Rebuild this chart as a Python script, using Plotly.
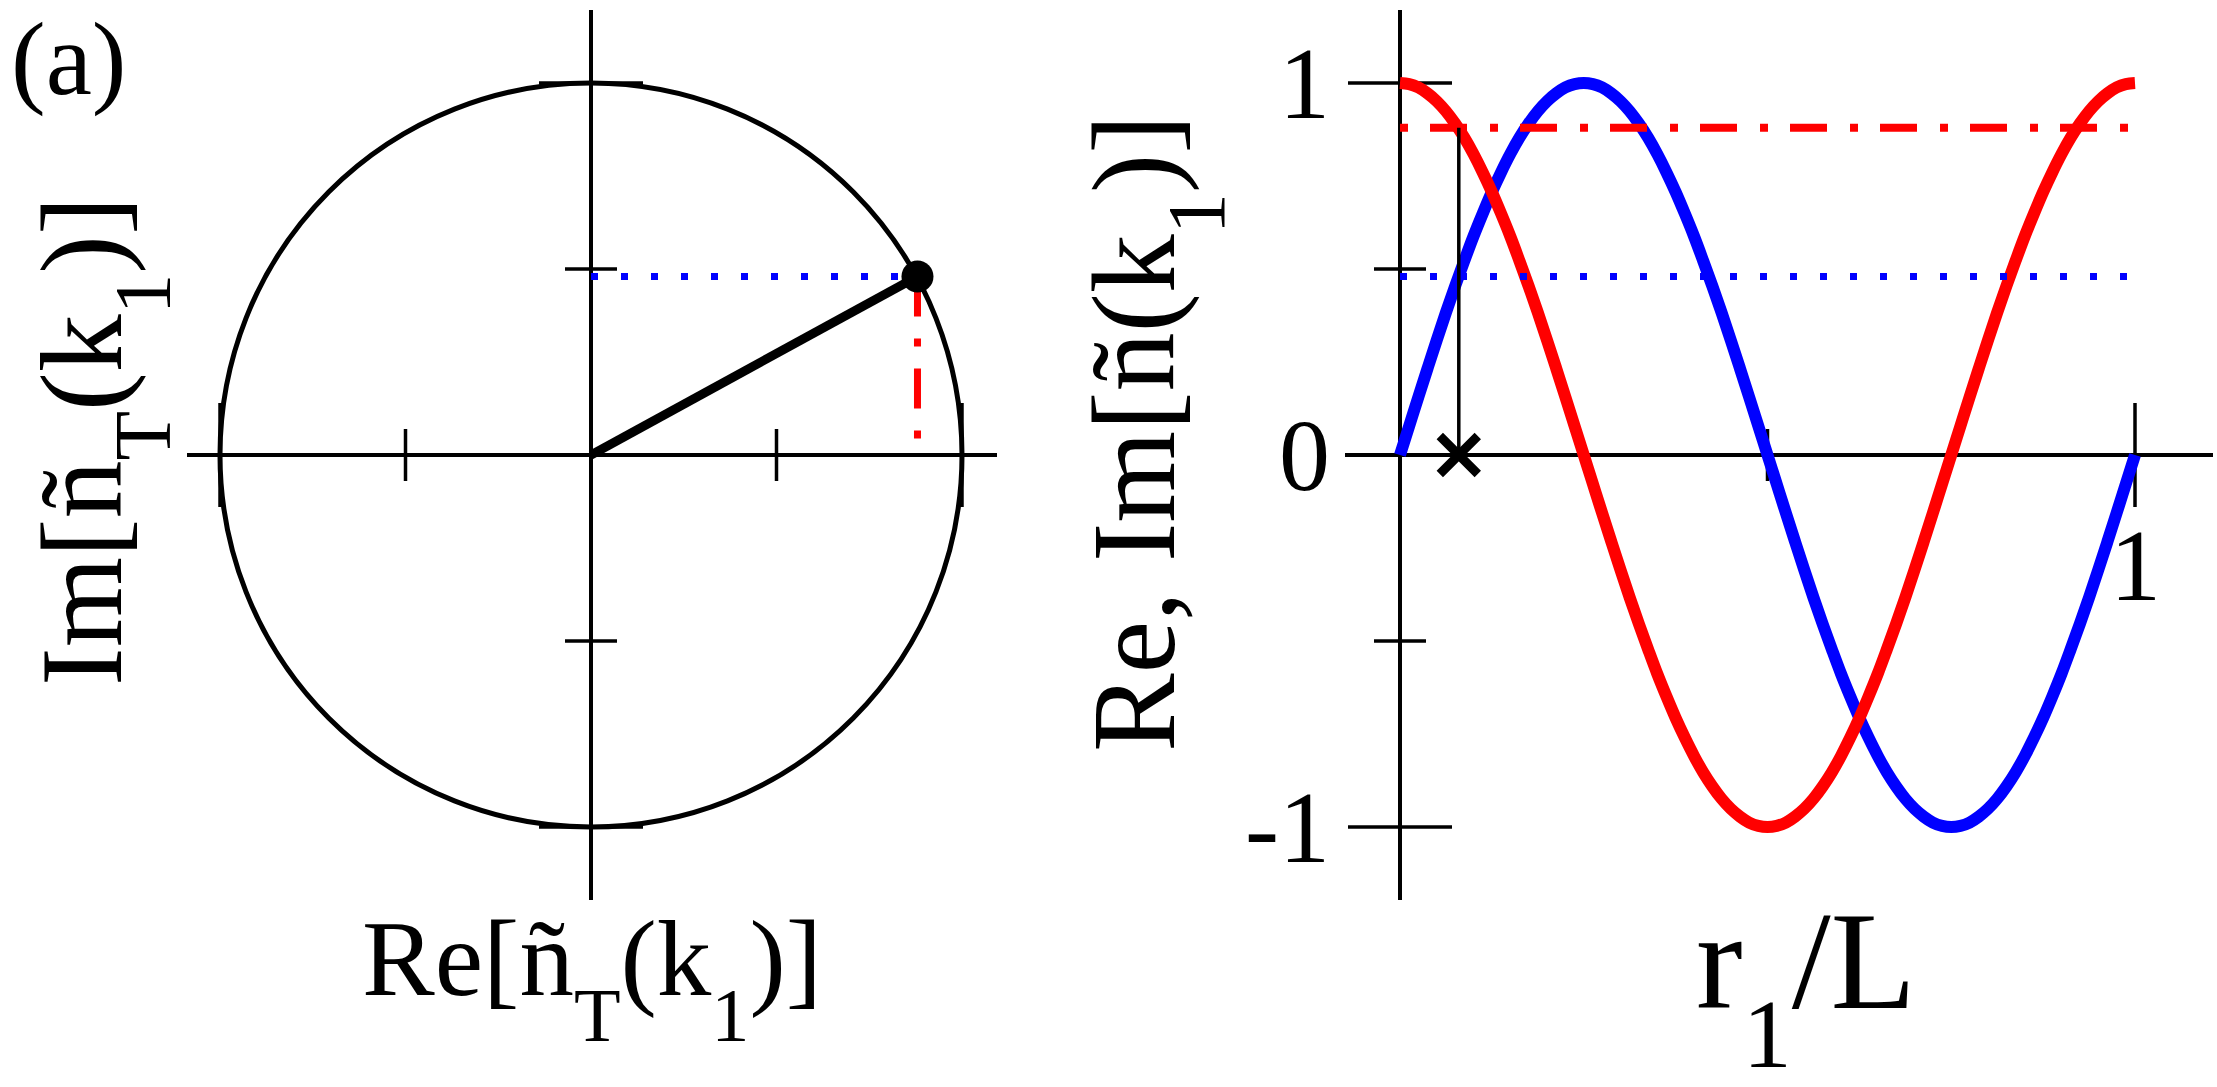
import plotly.graph_objects as go

# ---------------- data ----------------
r1_over_L = [0.0, 0.0125, 0.025, 0.0375, 0.05, 0.0625, 0.075, 0.0875, 0.1, 0.1125,
             0.125, 0.1375, 0.15, 0.1625, 0.175, 0.1875, 0.2, 0.2125, 0.225, 0.2375,
             0.25, 0.2625, 0.275, 0.2875, 0.3, 0.3125, 0.325, 0.3375, 0.35, 0.3625,
             0.375, 0.3875, 0.4, 0.4125, 0.425, 0.4375, 0.45, 0.4625, 0.475, 0.4875,
             0.5, 0.5125, 0.525, 0.5375, 0.55, 0.5625, 0.575, 0.5875, 0.6, 0.6125,
             0.625, 0.6375, 0.65, 0.6625, 0.675, 0.6875, 0.7, 0.7125, 0.725, 0.7375,
             0.75, 0.7625, 0.775, 0.7875, 0.8, 0.8125, 0.825, 0.8375, 0.85, 0.8625,
             0.875, 0.8875, 0.9, 0.9125, 0.925, 0.9375, 0.95, 0.9625, 0.975, 0.9875, 1.0]
im_values = [0.000, 0.078, 0.156, 0.233, 0.309, 0.383, 0.454, 0.522, 0.588, 0.649,
             0.707, 0.760, 0.809, 0.853, 0.891, 0.924, 0.951, 0.972, 0.988, 0.997,
             1.000, 0.997, 0.988, 0.972, 0.951, 0.924, 0.891, 0.853, 0.809, 0.760,
             0.707, 0.649, 0.588, 0.522, 0.454, 0.383, 0.309, 0.233, 0.156, 0.078,
             0.000, -0.078, -0.156, -0.233, -0.309, -0.383, -0.454, -0.522, -0.588, -0.649,
             -0.707, -0.760, -0.809, -0.853, -0.891, -0.924, -0.951, -0.972, -0.988, -0.997,
             -1.000, -0.997, -0.988, -0.972, -0.951, -0.924, -0.891, -0.853, -0.809, -0.760,
             -0.707, -0.649, -0.588, -0.522, -0.454, -0.383, -0.309, -0.233, -0.156, -0.078, 0.000]
re_values = [1.000, 0.997, 0.988, 0.972, 0.951, 0.924, 0.891, 0.853, 0.809, 0.760,
             0.707, 0.649, 0.588, 0.522, 0.454, 0.383, 0.309, 0.233, 0.156, 0.078,
             0.000, -0.078, -0.156, -0.233, -0.309, -0.383, -0.454, -0.522, -0.588, -0.649,
             -0.707, -0.760, -0.809, -0.853, -0.891, -0.924, -0.951, -0.972, -0.988, -0.997,
             -1.000, -0.997, -0.988, -0.972, -0.951, -0.924, -0.891, -0.853, -0.809, -0.760,
             -0.707, -0.649, -0.588, -0.522, -0.454, -0.383, -0.309, -0.233, -0.156, -0.078,
             0.000, 0.078, 0.156, 0.233, 0.309, 0.383, 0.454, 0.522, 0.588, 0.649,
             0.707, 0.760, 0.809, 0.853, 0.891, 0.924, 0.951, 0.972, 0.988, 0.997, 1.000]

circle_radius = 1.0
point_re = 0.88
point_im = 0.48
r1_marker = 0.08

circle_major_ticks = [-1.0, 1.0]
circle_minor_ticks = [-0.5, 0.5]
curve_y_major_ticks = [-1.0, 1.0]
curve_y_minor_ticks = [-0.5, 0.5]
curve_x_major_ticks = [1.0]
curve_x_minor_ticks = [0.5]
curve_y_tickvals = [1, 0, -1]
curve_y_ticktext = ["1", "0", "-1"]
curve_x_tickvals = [1]
curve_x_ticktext = ["1"]

# ---------------- text ----------------
def sub(t):
    # subscript, set lower than plotly's default <sub>
    return "<span style='font-size:70%;baseline-shift:-0.6em'>" + t + "</span>"

panel_label = "(a)"
left_xtitle = "Re[ñ" + sub("T") + "(k" + sub("1") + ")]"
left_ytitle = "Im[ñ" + sub("T") + "(k" + sub("1") + ")]"
right_ytitle = "Re, Im[ñ(k" + sub("1") + ")]"
right_xtitle = "r" + sub("1") + "/L"

# ---------------- layout geometry (pixels) ----------------
W, H = 2217, 1087
FONT = "Liberation Serif, Times New Roman, serif"

def px(x):
    return x / W

def py(y):
    return 1 - y / H

L_x0, L_x1 = 187, 997
R_x0, R_x1 = 1345, 2213
top, bottom = 10, 900
oy, uy = 455, 372
Lox, Lux = 591, 371
Rox, Rux = 1400, 735

left_xrange = [(L_x0 - Lox) / Lux, (L_x1 - Lox) / Lux]
right_xrange = [(R_x0 - Rox) / Rux, (R_x1 - Rox) / Rux]
yrange = [-(bottom - oy) / uy, (oy - top) / uy]

MAJOR = 104 / 1.4
MINOR = 52 / 1.4
TICKW = 3.5

fig = go.Figure()

def tick_trace(xs, ys, symbol, size, xa, ya):
    return go.Scatter(x=xs, y=ys, mode="markers",
                      marker=dict(symbol=symbol, size=size, line=dict(color="black", width=TICKW)),
                      xaxis=xa, yaxis=ya, hoverinfo="skip")

# ---------------- left panel ----------------
fig.add_trace(tick_trace(circle_major_ticks, [0] * len(circle_major_ticks), "line-ns", MAJOR, "x", "y"))
fig.add_trace(tick_trace(circle_minor_ticks, [0] * len(circle_minor_ticks), "line-ns", MINOR, "x", "y"))
fig.add_trace(tick_trace([0] * len(circle_major_ticks), circle_major_ticks, "line-ew", MAJOR, "x", "y"))
fig.add_trace(tick_trace([0] * len(circle_minor_ticks), circle_minor_ticks, "line-ew", MINOR, "x", "y"))
fig.add_trace(go.Scatter(x=[0, point_re], y=[point_im, point_im], mode="lines",
                         line=dict(color="blue", width=7, dash="7px,23px"),
                         xaxis="x", yaxis="y", hoverinfo="skip"))
fig.add_trace(go.Scatter(x=[point_re, point_re], y=[point_im, 0], mode="lines",
                         line=dict(color="red", width=7, dash="40px,22px,8px,22px"),
                         xaxis="x", yaxis="y", hoverinfo="skip"))
fig.add_trace(go.Scatter(x=[0, point_re], y=[0, point_im], mode="lines",
                         line=dict(color="black", width=9),
                         xaxis="x", yaxis="y", hoverinfo="skip"))
fig.add_trace(go.Scatter(x=[point_re], y=[point_im], mode="markers",
                         marker=dict(color="black", size=32),
                         xaxis="x", yaxis="y", hoverinfo="skip"))

# ---------------- right panel ----------------
fig.add_trace(tick_trace([0] * len(curve_y_major_ticks), curve_y_major_ticks, "line-ew", MAJOR, "x2", "y2"))
fig.add_trace(tick_trace([0] * len(curve_y_minor_ticks), curve_y_minor_ticks, "line-ew", MINOR, "x2", "y2"))
fig.add_trace(tick_trace(curve_x_major_ticks, [0] * len(curve_x_major_ticks), "line-ns", MAJOR, "x2", "y2"))
fig.add_trace(tick_trace(curve_x_minor_ticks, [0] * len(curve_x_minor_ticks), "line-ns", MINOR, "x2", "y2"))
fig.add_trace(go.Scatter(x=r1_over_L, y=im_values, mode="lines", line_shape="spline",
                         line=dict(color="blue", width=12),
                         xaxis="x2", yaxis="y2", hoverinfo="skip"))
fig.add_trace(go.Scatter(x=r1_over_L, y=re_values, mode="lines", line_shape="spline",
                         line=dict(color="red", width=12),
                         xaxis="x2", yaxis="y2", hoverinfo="skip"))
fig.add_trace(go.Scatter(x=[r1_over_L[0], r1_over_L[-1]], y=[point_im, point_im], mode="lines",
                         line=dict(color="blue", width=7, dash="7px,23px"),
                         xaxis="x2", yaxis="y2", hoverinfo="skip"))
fig.add_trace(go.Scatter(x=[r1_over_L[0], r1_over_L[-1]], y=[point_re, point_re], mode="lines",
                         line=dict(color="red", width=8, dash="8px,22px,37px,23px"),
                         xaxis="x2", yaxis="y2", hoverinfo="skip"))
fig.add_trace(go.Scatter(x=[r1_marker, r1_marker], y=[0, point_re], mode="lines",
                         line=dict(color="black", width=3.5),
                         xaxis="x2", yaxis="y2", hoverinfo="skip"))
fig.add_trace(go.Scatter(x=[r1_marker], y=[0], mode="markers",
                         marker=dict(symbol="x-thin", size=38, line=dict(color="black", width=9)),
                         xaxis="x2", yaxis="y2", hoverinfo="skip"))

fig.add_shape(type="circle", xref="x", yref="y",
              x0=-circle_radius, x1=circle_radius, y0=-circle_radius, y1=circle_radius,
              line=dict(color="black", width=5), layer="below")

axis_common = dict(showgrid=False, zeroline=True, zerolinecolor="black", zerolinewidth=3.5,
                   showline=False, ticks="", showticklabels=False, fixedrange=True)

annotations = []
tick_font = dict(family=FONT, size=102, color="black")
for v, t in zip(curve_y_tickvals, curve_y_ticktext):
    annotations.append(dict(x=0, y=v, xref="x2", yref="y2", text=t, showarrow=False,
                            xanchor="right", yanchor="middle", xshift=-68, font=tick_font))
for v, t in zip(curve_x_tickvals, curve_x_ticktext):
    annotations.append(dict(x=v, y=0, xref="x2", yref="y2", text=t, showarrow=False,
                            xanchor="center", yanchor="middle", yshift=-110, font=tick_font))

annotations += [
    dict(x=px(10), y=1, xref="paper", yref="paper", text=panel_label, showarrow=False,
         xanchor="left", yanchor="top", borderpad=0, font=dict(family=FONT, size=104, color="black")),
    dict(x=px(592), y=py(978), xref="paper", yref="paper", text=left_xtitle, showarrow=False,
         xanchor="center", yanchor="middle", font=dict(family=FONT, size=109, color="black")),
    dict(x=px(103), y=py(441), xref="paper", yref="paper", text=left_ytitle, showarrow=False,
         textangle=-90, xanchor="center", yanchor="middle",
         font=dict(family=FONT, size=116, color="black")),
    dict(x=px(1155), y=py(433), xref="paper", yref="paper", text=right_ytitle, showarrow=False,
         textangle=-90, xanchor="center", yanchor="middle",
         font=dict(family=FONT, size=118, color="black")),
    dict(x=px(1806), y=py(985), xref="paper", yref="paper", text=right_xtitle, showarrow=False,
         xanchor="center", yanchor="middle", font=dict(family=FONT, size=140, color="black")),
]

fig.update_layout(
    width=W, height=H,
    margin=dict(l=0, r=0, t=0, b=0),
    paper_bgcolor="white", plot_bgcolor="rgba(0,0,0,0)",
    showlegend=False,
    xaxis=dict(domain=[px(L_x0), px(L_x1)], range=left_xrange, anchor="y", **axis_common),
    yaxis=dict(domain=[py(bottom), py(top)], range=yrange, anchor="x", **axis_common),
    xaxis2=dict(domain=[px(R_x0), px(R_x1)], range=right_xrange, anchor="y2", **axis_common),
    yaxis2=dict(domain=[py(bottom), py(top)], range=yrange, anchor="x2", **axis_common),
    annotations=annotations,
)

fig.write_html("out.html", config={"displayModeBar": False},
               post_script="document.body.style.margin='0';")
